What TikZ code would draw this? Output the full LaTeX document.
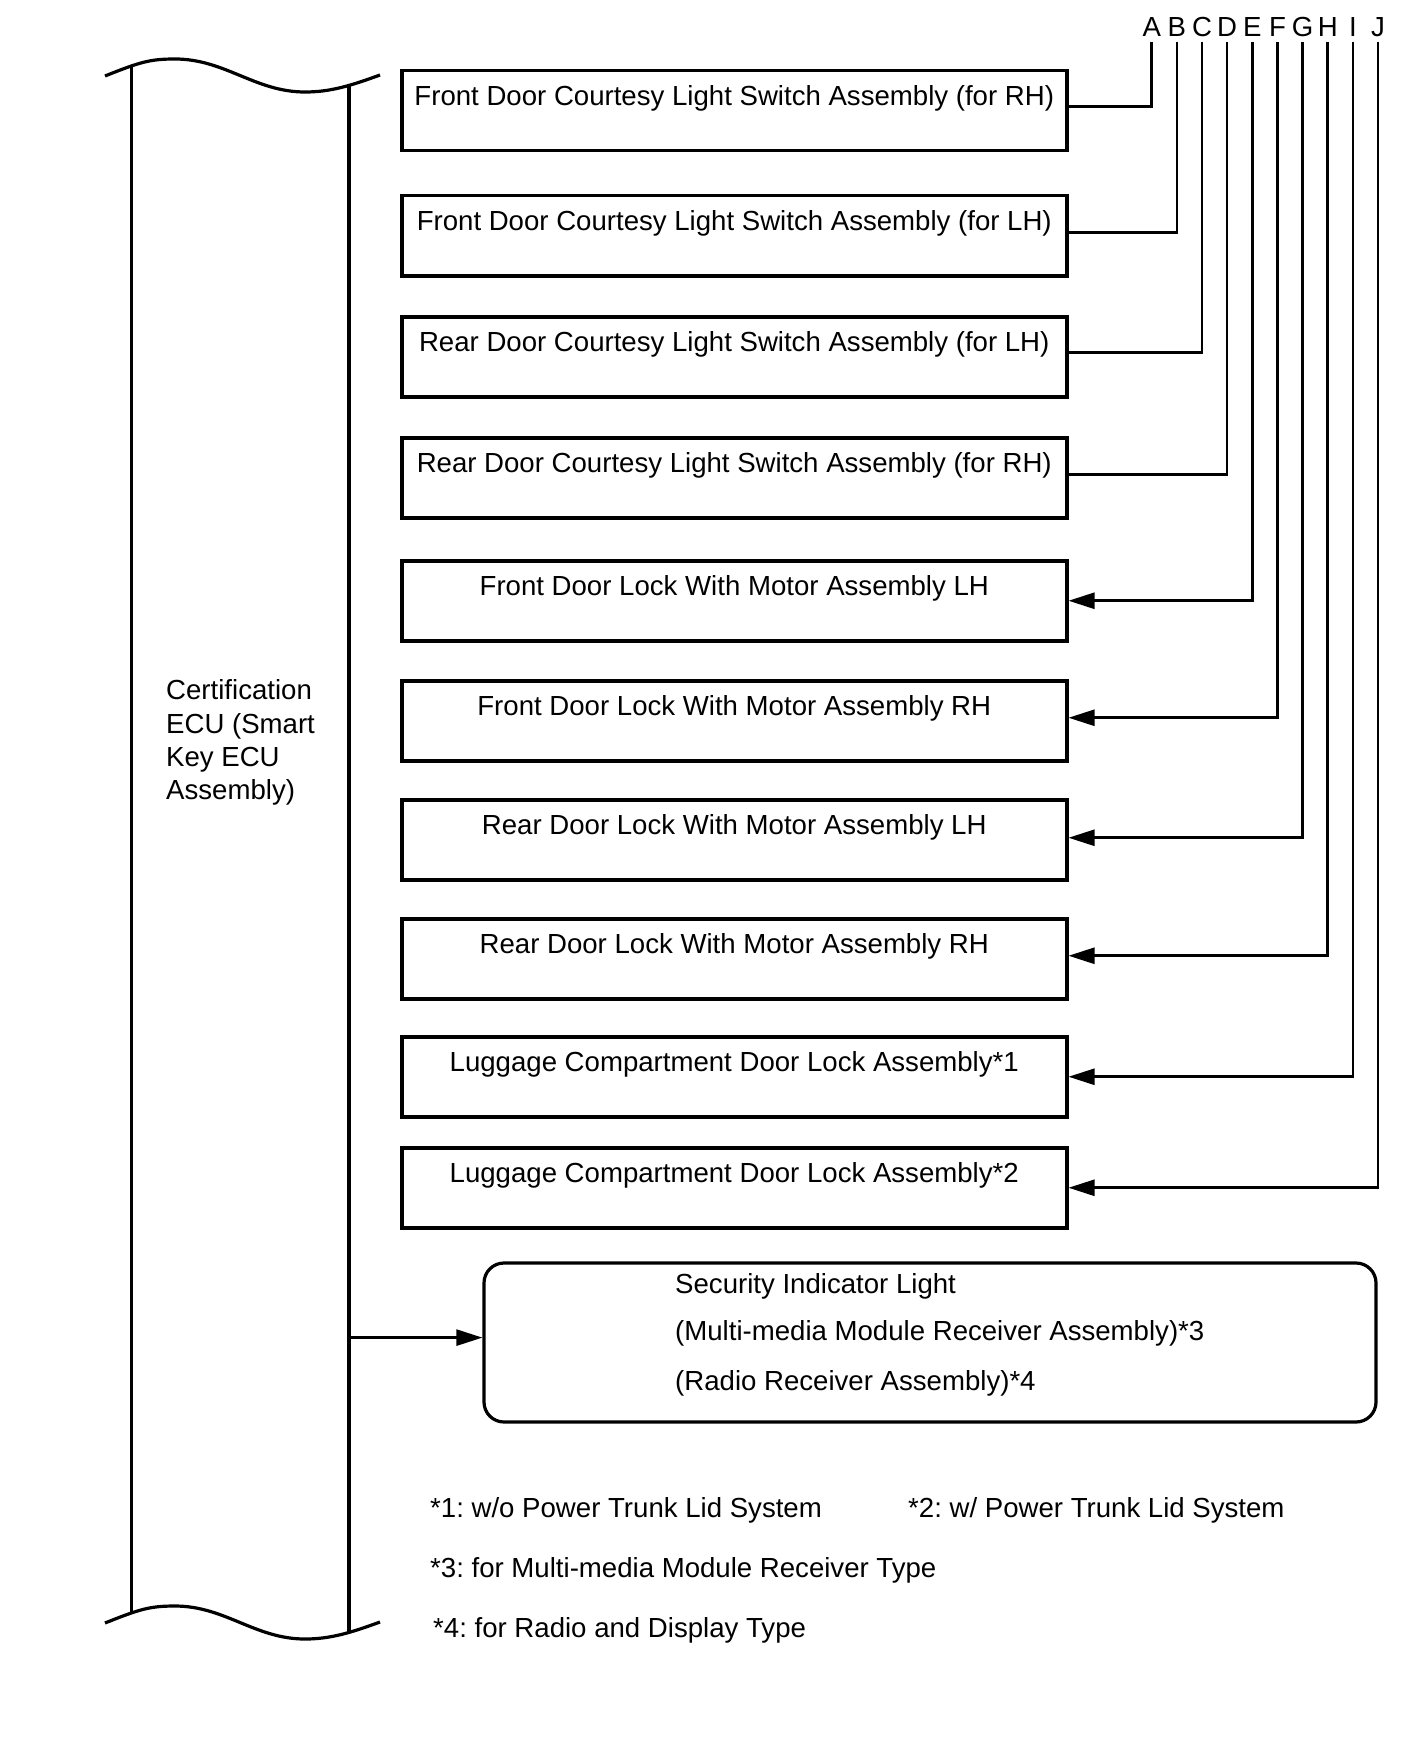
\documentclass[tikz,border=0pt]{standalone}
\usepackage{fontspec}
\setmainfont{Liberation Sans}
\usetikzlibrary{arrows.meta}
\frenchspacing
\begin{document}
\begin{tikzpicture}[x=1pt,y=-1pt,
  txt/.style={font=\fontsize{27.6pt}{33pt}\selectfont, inner sep=0pt},
  devbox/.style={draw, line width=3.5pt, minimum width=665pt, minimum height=80pt,
    inner sep=0pt, text height=20pt, text depth=30pt, anchor=north west,
    font=\fontsize{27.6pt}{33pt}\selectfont},
  secbox/.style={draw, line width=3.2pt, rounded corners=20pt, minimum width=892pt,
    minimum height=159pt, inner sep=0pt},
  wire/.style={line width=2.6pt},
  arr/.style={wire, -{Triangle[length=26pt,width=16pt]}},
  eculine/.style={line width=3.2pt},
  letter/.style={txt, anchor=base, inner xsep=0pt, inner ysep=5pt},
]
\useasboundingbox[fill=white] (0,0) rectangle (1424,1763);

% ECU column
\draw[eculine] (105,76) .. controls (140,62) and (150,59) .. (175,59)
  .. controls (225,59) and (255,92) .. (305,92)
  .. controls (330,92) and (350,86) .. (380,75);
\draw[eculine] (105,1623) .. controls (140,1609) and (150,1606) .. (175,1606)
  .. controls (225,1606) and (255,1639) .. (305,1639)
  .. controls (330,1639) and (350,1633) .. (380,1622);
\draw[eculine] (131.7,66) -- (131.7,1613);
\draw[eculine] (349,86) -- (349,1633);
\coordinate (ecuR) at (349,1337.6);

\node[txt, anchor=base west] (e1) at (166,699) {Certification};
\node[txt, anchor=base west] (e2) at (166,733) {ECU (Smart};
\node[txt, anchor=base west] (e3) at (166,766) {Key ECU};
\node[txt, anchor=base west] (e4) at (166,799) {Assembly)};

% device boxes
\node[devbox] (b1) at (400,69) {Front Door Courtesy Light Switch Assembly (for RH)};
\node[devbox] (b2) at (400,194) {Front Door Courtesy Light Switch Assembly (for LH)};
\node[devbox] (b3) at (400,315) {Rear Door Courtesy Light Switch Assembly (for LH)};
\node[devbox] (b4) at (400,436) {Rear Door Courtesy Light Switch Assembly (for RH)};
\node[devbox] (b5) at (400,559) {Front Door Lock With Motor Assembly LH};
\node[devbox] (b6) at (400,679) {Front Door Lock With Motor Assembly RH};
\node[devbox] (b7) at (400,798) {Rear Door Lock With Motor Assembly LH};
\node[devbox] (b8) at (400,917) {Rear Door Lock With Motor Assembly RH};
\node[devbox] (b9) at (400,1035) {Luggage Compartment Door Lock Assembly*1};
\node[devbox] (b10) at (400,1146) {Luggage Compartment Door Lock Assembly*2};

% letters
\foreach \l [count=\i from 0] in {A,B,C,D,E,F,G,H,I,J}
  \node[letter] (l\l) at ({1151.7+25.15*\i},37) {\l};

% connectors
\draw[wire] (lA.south) |- ([yshift=4pt]b1.east);
\draw[wire] (lB.south) |- ([yshift=3pt]b2.east);
\draw[wire] (lC.south) |- ([yshift=4pt]b3.east);
\draw[wire] (lD.south) |- ([yshift=3pt]b4.east);
\draw[arr] (lE.south) |- (b5.east);
\draw[arr] (lF.south) |- ([yshift=3pt]b6.east);
\draw[arr] (lG.south) |- ([yshift=2pt]b7.east);
\draw[arr] (lH.south) |- ([yshift=3pt]b8.east);
\draw[arr] (lI.south) |- (b9.east);
\draw[arr] (lJ.south) |- (b10.east);

% security indicator
\node[secbox] (sec) at (930,1342.5) {};
\node[txt, anchor=base west] (s1) at (675,1293) {Security Indicator Light};
\node[txt, anchor=base west] (s2) at (675,1340) {(Multi-media Module Receiver Assembly)*3};
\node[txt, anchor=base west] (s3) at (675,1390) {(Radio Receiver Assembly)*4};
\draw[arr] (ecuR) -- (ecuR -| sec.west);

% footnotes
\node[txt, anchor=base west] (f1) at (430,1517) {*1: w/o Power Trunk Lid System};
\node[txt, anchor=base west] (f2) at (908,1517) {*2: w/ Power Trunk Lid System};
\node[txt, anchor=base west] (f3) at (430,1577) {*3: for Multi-media Module Receiver Type};
\node[txt, anchor=base west] (f4) at (433,1637) {*4: for Radio and Display Type};
\end{tikzpicture}
\end{document}
